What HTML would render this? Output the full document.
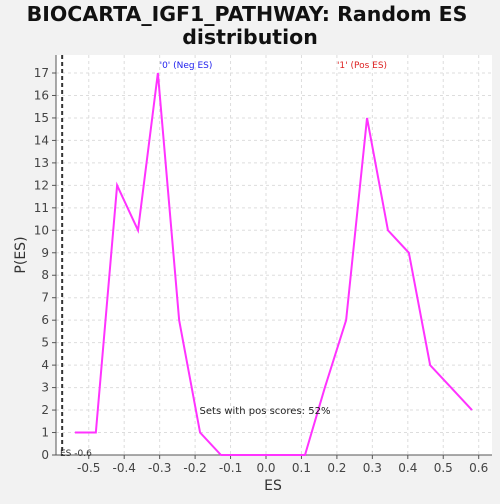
<!DOCTYPE html>
<html><head><style>
body{margin:0;background:#f2f2f2;font-family:"DejaVu Sans",sans-serif}
text{font-family:"DejaVu Sans",sans-serif}
</style></head><body>
<svg width="500" height="500">
<rect x="0" y="0" width="500" height="500" fill="#f2f2f2"/>
<text x="247" y="21" text-anchor="middle" font-size="20.5" font-weight="bold" fill="#111">BIOCARTA_IGF1_PATHWAY: Random ES</text>
<text x="250" y="44" text-anchor="middle" font-size="20.5" font-weight="bold" fill="#111">distribution</text>
<rect x="56" y="55" width="436" height="400" fill="#fff"/>
<g id="grid"></g><g id="axes"></g>
<polyline id="line" fill="none" stroke="#ff33ff" stroke-width="2"/>
<line id="esline" y1="55" y2="455" stroke="#333" stroke-width="2" stroke-dasharray="4,3"/>
<text x="60" y="456" font-size="9" fill="#333">ES -0.6</text>
<text x="186" y="68" text-anchor="middle" font-size="9" fill="#2222ee">'0' (Neg ES)</text>
<text x="362" y="68" text-anchor="middle" font-size="9" fill="#dd2222">'1' (Pos ES)</text>
<text x="265" y="414" text-anchor="middle" font-size="10" fill="#222">Sets with pos scores: 52%</text>
<text x="273" y="490" text-anchor="middle" font-size="14" fill="#333">ES</text>
<text x="25" y="255" text-anchor="middle" font-size="14" fill="#333" transform="rotate(-90 25 255)">P(ES)</text>
</svg>
<script>
const esValues=[-0.539,-0.48,-0.42,-0.361,-0.305,-0.245,-0.186,-0.127,-0.068,-0.009,0.05,0.11,0.166,0.226,0.285,0.344,0.403,0.463,0.522,0.581];
const pValues=[1,1,12,10,17,6,1,0,0,0,0,0,3,6,15,10,9,4,3,2];
const xTicks=[-0.5,-0.4,-0.3,-0.2,-0.1,0.0,0.1,0.2,0.3,0.4,0.5,0.6];
const yTicks=[0,1,2,3,4,5,6,7,8,9,10,11,12,13,14,15,16,17];
const observedES=[-0.575];
const ns="http://www.w3.org/2000/svg";
const X=v=>266+v*354.5, Y=v=>455-v*22.47;
const g=document.getElementById('grid'),a=document.getElementById('axes');
function mk(p,t,at){const e=document.createElementNS(ns,t);for(const k in at)e.setAttribute(k,at[k]);p.appendChild(e);return e;}
xTicks.forEach(t=>{const x=X(t);
const l=mk(g,'line',{x1:x,x2:x,y1:55,y2:455,stroke:'#ddd','stroke-dasharray':'3,3'});

mk(a,'line',{x1:x,x2:x,y1:455,y2:459,stroke:'#555'});
const tx=mk(a,'text',{x:x,y:472,'text-anchor':'middle','font-size':'12',fill:'#444'});tx.textContent=t.toFixed(1);
});
yTicks.forEach(t=>{const y=Y(t);
const l=mk(g,'line',{x1:56,x2:492,y1:y,y2:y,stroke:'#ddd','stroke-dasharray':'3,3'});

mk(a,'line',{x1:52,x2:56,y1:y,y2:y,stroke:'#555'});
const tx=mk(a,'text',{x:49,y:y+4,'text-anchor':'end','font-size':'12',fill:'#444'});tx.textContent=t;
});
mk(a,'line',{x1:56,x2:56,y1:55,y2:455,stroke:'#555'});
mk(a,'line',{x1:56,x2:492,y1:455,y2:455,stroke:'#555'});
document.getElementById('line').setAttribute('points',esValues.map((v,i)=>X(v)+','+Y(pValues[i])).join(' '));
const es=document.getElementById('esline');es.setAttribute('x1',X(observedES[0]));es.setAttribute('x2',X(observedES[0]));
</script>
</body></html>
